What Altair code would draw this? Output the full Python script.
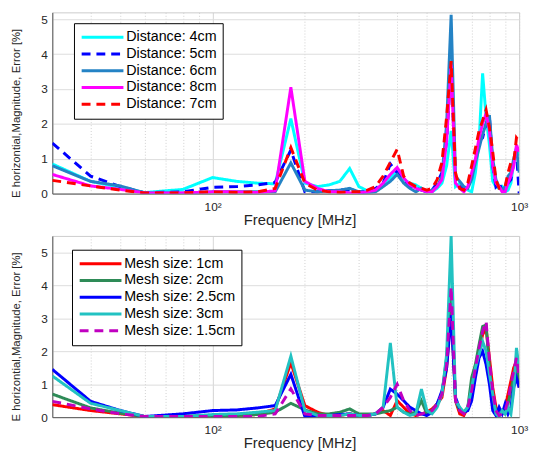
import altair as alt
import pandas as pd

freq = [30, 40, 50, 60, 80, 100, 120, 140, 160, 180, 200, 220, 240, 260, 280, 300,
        320, 340, 360, 380, 400, 420, 440, 460, 480, 500, 520, 540, 560, 580, 600,
        620, 640, 660, 680, 700, 720, 740, 760, 780, 800, 820, 840, 860, 880, 900,
        920, 940, 960, 980, 1000]

# ---- top panel: distance ----
dist_labels = ["Distance: 4cm", "Distance: 5cm", "Distance: 6cm", "Distance: 8cm", "Distance: 7cm"]
dist_colors = ["#00ffff", "#0000ff", "#2483c5", "#ff00ff", "#ff0000"]
dist_dashes = [[1, 0], [9, 6], [1, 0], [1, 0], [9, 6]]

d4 = [0.85, 0.35, 0.18, 0.03, 0.12, 0.46, 0.35, 0.30, 0.28, 2.15, 0.30, 0.20, 0.25, 0.35, 0.72, 0.20,
      0.08, 0.10, 0.25, 0.45, 0.68, 0.40, 0.30, 0.25, 0.15, 0.05, 0.05, 0.15, 0.30, 0.80, 1.80,
      0.20, 0.30, 0.20, 0.10, 0.05, 0.60, 1.50, 3.45, 2.20, 1.40, 0.35, 0.20, 0.15, 0.20, 0.05,
      0.10, 0.30, 0.90, 1.30, 1.10]
d5 = [1.45, 0.50, 0.20, 0.02, 0.05, 0.18, 0.20, 0.25, 0.32, 1.25, 0.05, 0.05, 0.08, 0.10, 0.10, 0.05,
      0.05, 0.15, 0.30, 0.85, 0.60, 0.35, 0.20, 0.15, 0.10, 0.05, 0.10, 0.30, 0.60, 1.50, 3.70,
      0.40, 0.20, 0.10, 0.20, 0.60, 1.00, 1.50, 1.60, 2.00, 2.20, 0.80, 0.20, 0.30, 0.10, 0.10,
      0.30, 0.40, 0.90, 1.20, 0.00]
d6 = [0.80, 0.35, 0.22, 0.02, 0.02, 0.05, 0.05, 0.05, 0.05, 0.88, 0.10, 0.05, 0.08, 0.10, 0.15, 0.05,
      0.02, 0.05, 0.20, 0.35, 0.55, 0.30, 0.15, 0.05, 0.15, 0.05, 0.10, 0.20, 0.50, 2.00, 5.13,
      0.50, 0.35, 0.20, 0.15, 0.40, 0.90, 1.30, 1.70, 2.00, 2.25, 1.00, 0.40, 0.20, 0.10, 0.20,
      0.50, 0.60, 1.00, 1.30, 0.60]
d8 = [0.55, 0.22, 0.12, 0.02, 0.02, 0.05, 0.05, 0.03, 0.08, 3.05, 0.35, 0.15, 0.05, 0.05, 0.02, 0.02,
      0.05, 0.10, 0.30, 0.55, 0.75, 0.45, 0.25, 0.15, 0.10, 0.05, 0.05, 0.20, 0.40, 1.50, 3.70,
      0.30, 0.15, 0.05, 0.20, 0.60, 1.00, 1.60, 2.00, 2.30, 1.80, 0.80, 0.30, 0.20, 0.05, 0.05,
      0.30, 0.50, 0.80, 1.40, 1.20]
d7 = [0.38, 0.22, 0.10, 0.02, 0.02, 0.05, 0.03, 0.05, 0.15, 1.32, 0.30, 0.10, 0.05, 0.03, 0.05, 0.05,
      0.10, 0.20, 0.50, 0.90, 1.27, 0.50, 0.30, 0.20, 0.15, 0.10, 0.15, 0.40, 0.90, 2.20, 3.80,
      0.60, 0.15, 0.10, 0.30, 0.80, 1.30, 1.80, 2.10, 2.40, 1.90, 1.20, 0.40, 0.15, 0.15, 0.20,
      0.60, 0.90, 0.90, 1.60, 1.50]
dist_values = [d4, d5, d6, d8, d7]

# ---- bottom panel: mesh size ----
mesh_labels = ["Mesh size: 1cm", "Mesh size: 2cm", "Mesh size: 2.5cm", "Mesh size: 3cm", "Mesh size: 1.5cm"]
mesh_colors = ["#ff0000", "#2e8b57", "#0000ff", "#22c2c2", "#c000c0"]
mesh_dashes = [[1, 0], [1, 0], [1, 0], [1, 0], [9, 6]]

m1 = [0.38, 0.20, 0.10, 0.02, 0.02, 0.05, 0.05, 0.08, 0.25, 1.65, 0.35, 0.15, 0.05, 0.05, 0.10, 0.05,
      0.05, 0.10, 0.20, 0.05, 0.50, 0.30, 0.10, 0.05, 0.10, 0.15, 0.25, 0.40, 0.60, 1.50, 3.30,
      0.50, 0.10, 0.05, 0.30, 0.80, 1.50, 2.00, 2.50, 2.70, 1.80, 0.90, 0.30, 0.10, 0.10, 0.30,
      0.70, 1.10, 1.50, 1.70, 0.90]
m2 = [0.70, 0.28, 0.12, 0.02, 0.02, 0.05, 0.05, 0.08, 0.15, 0.42, 0.22, 0.10, 0.10, 0.15, 0.25, 0.10,
      0.10, 0.10, 0.15, 0.20, 0.30, 0.15, 0.10, 0.15, 0.50, 0.10, 0.20, 0.40, 0.70, 1.80, 3.75,
      0.50, 0.20, 0.15, 0.30, 1.20, 1.60, 2.20, 2.75, 2.80, 1.50, 0.50, 0.20, 0.05, 0.20, 0.10,
      0.40, 0.80, 1.20, 1.60, 1.00]
m25 = [1.45, 0.48, 0.20, 0.02, 0.10, 0.20, 0.22, 0.28, 0.35, 1.30, 0.02, 0.05, 0.05, 0.08, 0.10, 0.05,
       0.05, 0.10, 0.30, 0.85, 0.70, 0.50, 0.30, 0.20, 0.10, 0.05, 0.15, 0.40, 0.80, 1.50, 3.10,
       0.60, 0.25, 0.15, 0.20, 0.50, 1.20, 1.80, 2.00, 1.60, 1.00, 0.20, 0.05, 0.30, 0.10, 0.40,
       0.10, 0.30, 0.90, 1.20, 0.90]
m3 = [1.25, 0.42, 0.20, 0.02, 0.02, 0.08, 0.10, 0.15, 0.20, 1.85, 0.20, 0.05, 0.05, 0.05, 0.10, 0.05,
      0.05, 0.10, 0.30, 2.25, 0.30, 0.15, 0.05, 0.10, 0.85, 0.20, 0.10, 0.30, 0.70, 1.90, 5.50,
      0.50, 0.30, 0.15, 0.30, 0.90, 1.50, 1.90, 2.30, 2.00, 1.30, 0.70, 0.10, 0.00, 0.20, 0.10,
      0.30, 0.10, 0.80, 2.10, 1.50]
m15 = [0.48, 0.25, 0.10, 0.02, 0.02, 0.02, 0.02, 0.02, 0.10, 0.86, 0.10, 0.05, 0.05, 0.05, 0.05, 0.05,
       0.05, 0.10, 0.30, 0.60, 1.00, 0.50, 0.20, 0.05, 0.10, 0.15, 0.20, 0.40, 0.70, 1.60, 3.95,
       0.50, 0.20, 0.10, 0.30, 0.80, 1.50, 2.10, 2.60, 2.90, 1.70, 0.80, 0.20, 0.05, 0.10, 0.20,
       0.50, 1.00, 1.40, 1.80, 1.20]
mesh_values = [m1, m2, m25, m3, m15]

FONT = "Liberation Sans"
TXT = "#262626"
YTITLE = "E horizontial,Magnitude, Error [%]"
XTITLE = "Frequency [MHz]"
x_ticks = [40, 50, 60, 70, 80, 90, 100, 200, 300, 400, 500, 600, 700, 800, 900, 1000]


def long_table(labels, values):
    rows = []
    for lab, vals in zip(labels, values):
        for f, v in zip(freq, vals):
            rows.append({"series": lab, "f": f, "v": v})
    return pd.DataFrame(rows)


def panel(labels, values, colors, dashes, ymax, h, lx, ly):
    df = long_table(labels, values)
    leg = alt.Legend(orient="none", legendX=lx, legendY=ly, strokeColor="black",
                     fillColor="white", padding=6, symbolType="stroke",
                     symbolStrokeWidth=3, symbolSize=1800, labelFontSize=14.5,
                     labelFont=FONT, labelColor="black", labelOffset=1, rowPadding=0,
                     clipHeight=16.5)
    xaxis = alt.Axis(values=x_ticks,
                     labelExpr="datum.value == 100 ? '10²' : (datum.value == 1000 ? '10³' : '')",
                     grid=True, gridColor="#cfcfcf",
                     gridDash={"condition": {"test": "datum.value == 100", "value": [1, 0]},
                               "value": [1, 2]},
                     ticks=False, labelPadding=8, labelFontSize=12, labelFont=FONT,
                     labelColor=TXT, labelFlush=False, labelOverlap=False,
                     titleFontSize=15, titleFont=FONT, titleColor=TXT, titleFontWeight="normal",
                     titlePadding=0, titleX=251, domainColor="#555555")
    yaxis = alt.Axis(values=[0, 1, 2, 3, 4, 5], grid=True, gridColor="#dcdcdc", ticks=False,
                     labelPadding=5, labelFontSize=12, labelFont=FONT, labelColor=TXT,
                     titleFontSize=11.5, titleFont=FONT, titleColor=TXT, titleFontWeight="normal",
                     titleX=-31, titleY=h / 2 + 10, domainColor="#555555")
    return alt.Chart(df).mark_line(strokeWidth=3, clip=True).encode(
        x=alt.X("f:Q", scale=alt.Scale(type="log", domain=[30, 1000], nice=False),
                axis=xaxis, title=XTITLE),
        y=alt.Y("v:Q", scale=alt.Scale(domain=[0, ymax], nice=False), axis=yaxis, title=YTITLE),
        color=alt.Color("series:N", scale=alt.Scale(domain=labels, range=colors),
                        legend=leg, title=None),
        strokeDash=alt.StrokeDash("series:N", scale=alt.Scale(domain=labels, range=dashes),
                                  legend=leg, title=None),
    ).properties(width=474, height=h)


top = panel(dist_labels, dist_values, dist_colors, dist_dashes, 5.2, 184, 22, 11)
bottom = panel(mesh_labels, mesh_values, mesh_colors, mesh_dashes, 5.5, 184, 20, 14)

chart = alt.vconcat(top, bottom, spacing=43, bounds="flush").resolve_scale(
    color="independent", strokeDash="independent"
).resolve_legend(color="independent", strokeDash="independent").configure(
    padding={"left": 2, "top": 0, "right": 0, "bottom": 0},
    background="white",
).configure_view(stroke="#cccccc")

chart.save("out.html", embed_options={"renderer": "svg", "actions": False})
